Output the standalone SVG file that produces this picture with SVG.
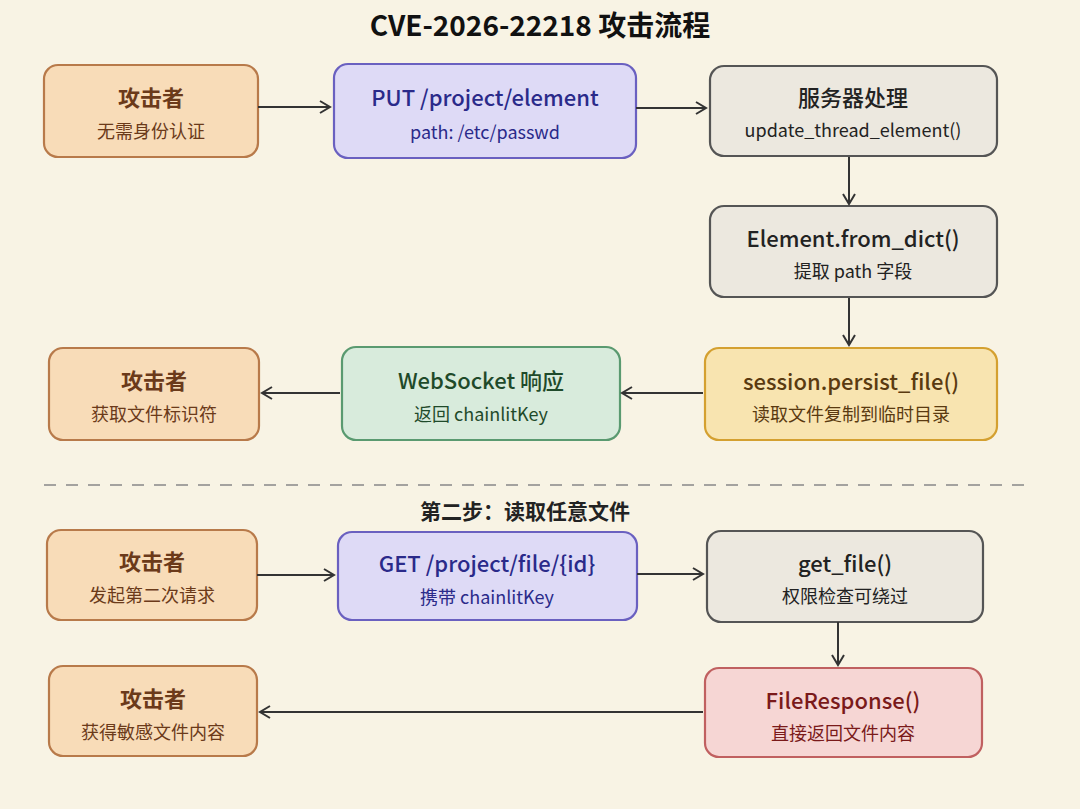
<svg xmlns="http://www.w3.org/2000/svg" width="1080" height="809" viewBox="0 0 1080 809">
<style>
.b{stroke-width:2.2}
.t{font-family:"Noto Sans CJK SC","Noto Sans",sans-serif;text-anchor:middle}
.h{font-size:22px;font-weight:500}
.k{font-weight:bold}
.s{font-size:18px}
.o rect{fill:#f8dcb8;stroke:#b87a4a}.o text{fill:#6b3a1a}
.p rect{fill:#dedaf6;stroke:#6a60c0}.p text{fill:#2a2a8a}
.g rect{fill:#ece8df;stroke:#555}.g text{fill:#222}
.n rect{fill:#d8ebdc;stroke:#5a9a70}.n text{fill:#1f4a2a}
.y rect{fill:#f8e4b0;stroke:#d4a030}.y text{fill:#5a3a10}
.r rect{fill:#f6d6d4;stroke:#c06060}.r text{fill:#7a1a1a}
.c line{stroke:#333;stroke-width:2;marker-end:url(#a)}
</style>
<defs><marker id="a" markerWidth="14" markerHeight="14" refX="12" refY="7" orient="auto" markerUnits="userSpaceOnUse"><path d="M2,1 L12,7 L2,13" fill="none" stroke="#333" stroke-width="2"/></marker></defs>
<rect width="1080" height="809" fill="#f8f3e4"/>
<text class="t" x="540" y="36" font-size="28" font-weight="bold" fill="#111">CVE-2026-22218 攻击流程</text>
<g id="n1" class="o"><rect class="b" x="44" y="65" width="214" height="92" rx="14"/><text class="t h k" x="151" y="106">攻击者</text><text class="t s" x="151" y="138">无需身份认证</text></g>
<g id="n2" class="p"><rect class="b" x="334" y="64" width="302" height="94" rx="14"/><text class="t h" x="485" y="106">PUT /project/element</text><text class="t s" x="485" y="139">path: /etc/passwd</text></g>
<g id="n3" class="g"><rect class="b" x="710" y="66" width="287" height="90" rx="14"/><text class="t h" x="853" y="106">服务器处理</text><text class="t s" x="853" y="137">update_thread_element()</text></g>
<g id="n4" class="g"><rect class="b" x="710" y="206" width="287" height="91" rx="14"/><text class="t h" x="853" y="247">Element.from_dict()</text><text class="t s" x="853" y="278">提取 path 字段</text></g>
<g id="n5" class="y"><rect class="b" x="705" y="348" width="292" height="92" rx="14"/><text class="t h" x="851" y="390">session.persist_file()</text><text class="t s" x="851" y="421">读取文件复制到临时目录</text></g>
<g id="n6" class="n"><rect class="b" x="342" y="347" width="278" height="93" rx="14"/><text class="t h" x="481" y="389">WebSocket 响应</text><text class="t s" x="481" y="421">返回 chainlitKey</text></g>
<g id="n7" class="o"><rect class="b" x="49" y="348" width="210" height="92" rx="14"/><text class="t h k" x="154" y="389">攻击者</text><text class="t s" x="154" y="421">获取文件标识符</text></g>
<line x1="44" y1="485" x2="1030" y2="485" stroke="#888" stroke-width="1.5" stroke-dasharray="12,10"/>
<text class="t" x="525" y="519" font-size="21" font-weight="bold" fill="#222">第二步：读取任意文件</text>
<g id="n8" class="o"><rect class="b" x="47" y="530" width="210" height="90" rx="14"/><text class="t h k" x="152" y="570">攻击者</text><text class="t s" x="152" y="602">发起第二次请求</text></g>
<g id="n9" class="p"><rect class="b" x="338" y="532" width="299" height="88" rx="14"/><text class="t h" x="487" y="572">GET /project/file/{id}</text><text class="t s" x="487" y="604">携带 chainlitKey</text></g>
<g id="n10" class="g"><rect class="b" x="707" y="531" width="276" height="91" rx="14"/><text class="t h" x="845" y="572">get_file()</text><text class="t s" x="845" y="603">权限检查可绕过</text></g>
<g id="n11" class="r"><rect class="b" x="705" y="668" width="277" height="89" rx="14"/><text class="t h" x="843" y="709">FileResponse()</text><text class="t s" x="843" y="740">直接返回文件内容</text></g>
<g id="n12" class="o"><rect class="b" x="49" y="666" width="208" height="90" rx="14"/><text class="t h k" x="153" y="707">攻击者</text><text class="t s" x="153" y="739">获得敏感文件内容</text></g>
<g id="connectors" class="c">
<line x1="258" y1="107" x2="330" y2="107"/>
<line x1="636" y1="108" x2="706" y2="108"/>
<line x1="849" y1="157" x2="849" y2="204"/>
<line x1="849" y1="298" x2="849" y2="345"/>
<line x1="703" y1="393" x2="622" y2="393"/>
<line x1="340" y1="393" x2="262" y2="393"/>
<line x1="257" y1="575" x2="334" y2="575"/>
<line x1="637" y1="574" x2="703" y2="574"/>
<line x1="838" y1="622" x2="838" y2="665"/>
<line x1="703" y1="712" x2="260" y2="712"/>
</g>
</svg>
